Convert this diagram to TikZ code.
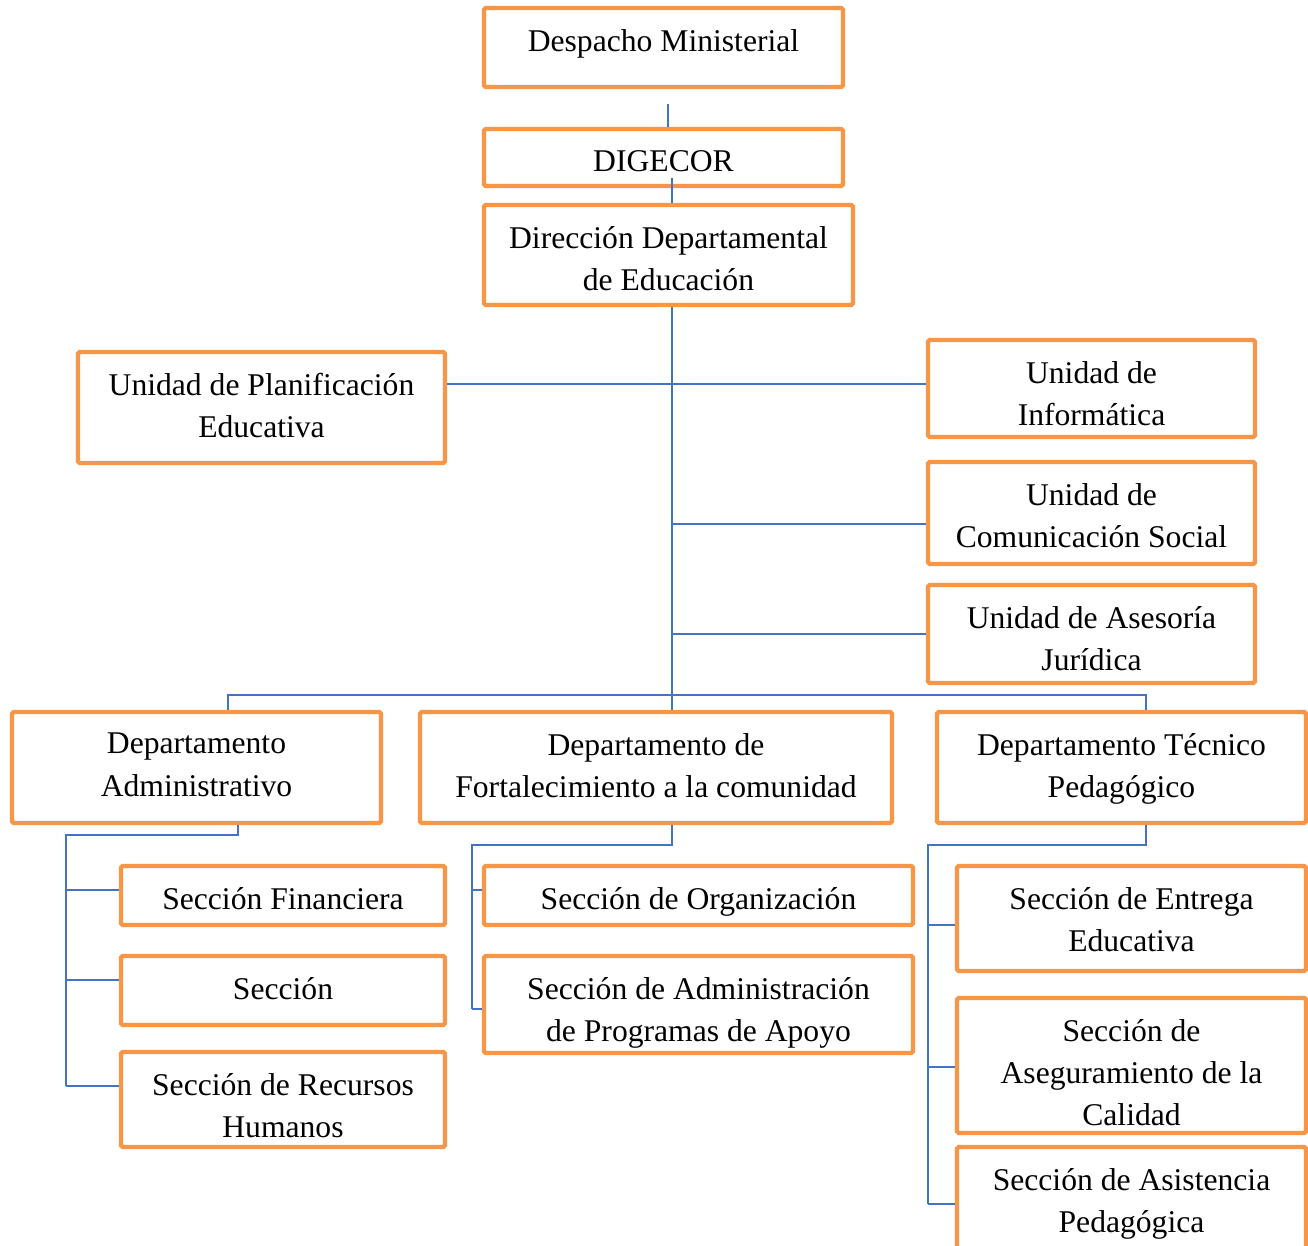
\documentclass[tikz,border=0pt]{standalone}
\usepackage{fontspec}
\setmainfont{Liberation Serif}
\usetikzlibrary{fit}
\definecolor{boxorange}{HTML}{F79646}
\definecolor{lineblue}{HTML}{4472C4}

\begin{document}
\begin{tikzpicture}[x=0.02cm,y=-0.02cm,
    lbl/.style={anchor=north,inner sep=0pt,yshift=-0.46cm,align=center,
                font=\fontsize{18}{24}\selectfont},
    unit/.style={draw=boxorange,line width=2.5pt,rounded corners=1pt,inner sep=0pt,
                 label={[lbl]north:#1}},
    link/.style={draw=lineblue,line width=1pt}]

    \useasboundingbox (0,0) rectangle (1308,1245);

    % top of the chart
    \node[unit={Despacho Ministerial},fit={(484,8) (843,87)}] (dm) {};
    \node[unit={DIGECOR},fit={(484,129) (843,186)}] (dg) {};
    \node[unit={Dirección Departamental\\de Educación},fit={(484,205) (853,305)}] (dde) {};

    % staff units
    \node[unit={Unidad de Planificación\\Educativa},fit={(78,352) (445,463)}] (up) {};
    \node[unit={Unidad de\\Informática},fit={(928,340) (1255,437)}] (ui) {};
    \node[unit={Unidad de\\Comunicación Social},fit={(928,462) (1255,564)}] (ucs) {};
    \node[unit={Unidad de Asesoría\\Jurídica},fit={(928,585) (1255,683)}] (uaj) {};

    % departments
    \node[unit={Departamento\\Administrativo},fit={(12,712) (381,823)}] (da) {};
    \node[unit={Departamento de\\Fortalecimiento a la comunidad},fit={(420,712) (892,823)}] (df) {};
    \node[unit={Departamento Técnico\\Pedagógico},fit={(937,712) (1306,823)}] (dt) {};

    % sections
    \node[unit={Sección Financiera},fit={(121,866) (445,925)}] (sf) {};
    \node[unit={Sección},fit={(121,956) (445,1025)}] (ss) {};
    \node[unit={Sección de Recursos\\Humanos},fit={(121,1052) (445,1147)}] (sr) {};
    \node[unit={Sección de Organización},fit={(484,866) (913,925)}] (so) {};
    \node[unit={Sección de Administración\\de Programas de Apoyo},fit={(484,956) (913,1053)}] (sa) {};
    \node[unit={Sección de Entrega\\Educativa},fit={(957,866) (1306,971)}] (se) {};
    \node[unit={Sección de\\Aseguramiento de la\\Calidad},fit={(957,998) (1306,1133)}] (sq) {};
    \node[unit={Sección de Asistencia\\Pedagógica},fit={(957,1147) (1306,1262)}] (sp) {};

    % connectors
    \coordinate (s1) at (668,104);
    \coordinate (s2) at (672,178);
    \coordinate (bus) at (672,695);
    \coordinate (h1) at (672,384);
    \coordinate (h2) at (672,524);
    \coordinate (h3) at (672,634);
    \coordinate (bl) at (228,695);
    \coordinate (br) at (1146,695);

    \draw[link] (s1) -- (s1 |- dg.north);
    \draw[link] (s2) -- (s2 |- dde.north);
    \draw[link] (bus |- dde.south) -- (bus);
    \draw[link] (h1 -| up.east) -- (h1 -| ui.west);
    \draw[link] (h2) -- (h2 -| ucs.west);
    \draw[link] (h3) -- (h3 -| uaj.west);
    \draw[link] (bl |- da.north) -- (bl) -- (br) -- (br |- dt.north);
    \draw[link] (bus) -- (bus |- df.north);

    \coordinate (a0) at (238,835);
    \coordinate (a1) at (66,835);
    \coordinate (a2) at (66,1086);
    \draw[link] (a0 |- da.south) -- (a0) -- (a1) -- (a2);
    \foreach \n/\y in {sf/890,ss/980,sr/1086}
        \draw[link] (66,\y) coordinate (b\n) -- (b\n -| \n.west);

    \coordinate (f0) at (672,845);
    \coordinate (f1) at (472,845);
    \coordinate (f2) at (472,1009);
    \draw[link] (f0 |- df.south) -- (f0) -- (f1) -- (f2);
    \foreach \n/\y in {so/890,sa/1009}
        \draw[link] (472,\y) coordinate (b\n) -- (b\n -| \n.west);

    \coordinate (t0) at (1146,845);
    \coordinate (t1) at (928,845);
    \coordinate (t2) at (928,1204);
    \draw[link] (t0 |- dt.south) -- (t0) -- (t1) -- (t2);
    \foreach \n/\y in {se/925,sq/1067,sp/1204}
        \draw[link] (928,\y) coordinate (b\n) -- (b\n -| \n.west);

\end{tikzpicture}
\end{document}
